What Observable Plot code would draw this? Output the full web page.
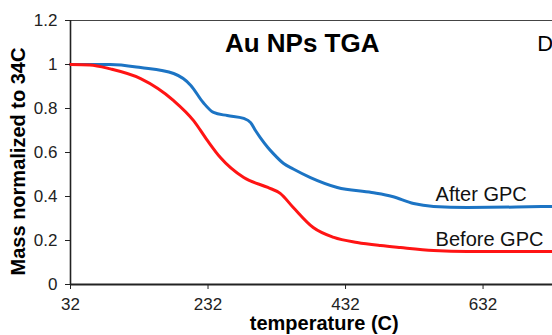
<!DOCTYPE html>
<html><head><meta charset="utf-8">
<script src="https://cdn.jsdelivr.net/npm/d3@7"></script>
<script src="https://cdn.jsdelivr.net/npm/@observablehq/plot@0.6"></script>
<style>body{margin:0;background:#fff;} svg{display:block;}</style>
</head><body><div id="chart"></div>
<script>
const afterT = [32,90,134,182,207,225,240,260,284,294,301,308,319,327,342,356,381,420,470,500,531,560,609,680,733];
const afterM = [1.0,1.0,0.986,0.959,0.905,0.827,0.782,0.768,0.755,0.736,0.70,0.668,0.623,0.595,0.55,0.525,0.486,0.441,0.418,0.40,0.368,0.355,0.35,0.352,0.355];
const beforeT = [32,60,90,134,182,211,231,250,284,319,337,356,385,415,449,483,512,560,609,733];
const beforeM = [1.0,0.998,0.98,0.936,0.836,0.745,0.655,0.577,0.486,0.441,0.414,0.35,0.259,0.214,0.191,0.177,0.168,0.155,0.15,0.15];
const xTicks = [32,232,432,632];
const yTicks = [0,0.2,0.4,0.6,0.8,1,1.2];
const seriesNames = ["After GPC","Before GPC"];
const labelPos = [{t:563,m:0.409},{t:563,m:0.205}];
const title = "Au NPs TGA";
const xLabel = "temperature (C)";
const yLabel = "Mass normalized to 34C";

const after = afterT.map((t,i)=>({t, m: afterM[i]}));
const before = beforeT.map((t,i)=>({t, m: beforeM[i]}));
const labels = seriesNames.map((s,i)=>({s, ...labelPos[i]}));

const font = "Liberation Sans, Arial, sans-serif";
const chart = Plot.plot({
  width: 552, height: 335,
  marginLeft: 70, marginRight: 0, marginTop: 20, marginBottom: 51,
  style: {fontFamily: font, fontSize: "17px", color: "#222", background: "#fff"},
  x: {domain: [32, 733], label: null},
  y: {domain: [0, 1.2], label: null},
  marks: [
    Plot.ruleY([1.2], {stroke: "#444", strokeWidth: 1.2}),
    Plot.ruleY([0], {stroke: "#222", strokeWidth: 1.8}),
    Plot.ruleX([32], {stroke: "#222", strokeWidth: 1.6}),
    Plot.line(after, {x: "t", y: "m", stroke: "#1c74c4", strokeWidth: 3, curve: "monotone-x"}),
    Plot.line(before, {x: "t", y: "m", stroke: "#ff1414", strokeWidth: 3, curve: "monotone-x"}),
    Plot.text(labels, {x: "t", y: "m", text: "s", textAnchor: "start", fontSize: 20, fill: "#111"}),
    Plot.text([title], {x: 369, y: 1.095, text: d => d, fontSize: 26, fontWeight: "bold", fill: "#000"}),
    Plot.text(["D"], {x: 711, y: 1.095, text: d => d, textAnchor: "start", fontSize: 22, fill: "#000"}),
    Plot.axisX({ticks: xTicks, tickFormat: d => String(d), tickSize: 5, tickPadding: 8, fontSize: 17, label: null}),
    Plot.axisY({ticks: yTicks, tickFormat: d => String(d), tickSize: 5, tickPadding: 8, fontSize: 17, label: null}),
    Plot.text([xLabel], {frameAnchor: "bottom", dy: 39, x: 401, text: d => d, textAnchor: "middle", lineAnchor: "middle", fontSize: 20, fontWeight: "bold", fill: "#000"}),
    Plot.text([yLabel], {frameAnchor: "left", dx: -52, y: 0.559, rotate: -90, textAnchor: "middle", lineAnchor: "middle", text: d => d, fontSize: 20, fontWeight: "bold", fill: "#000"})
  ]
});
document.getElementById("chart").appendChild(chart);
</script></body></html>
